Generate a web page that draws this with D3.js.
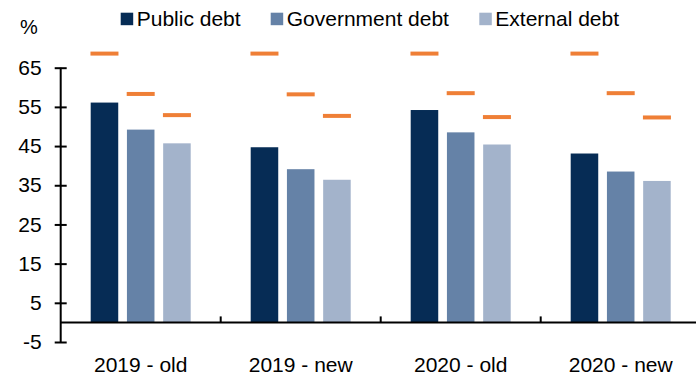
<!DOCTYPE html>
<html>
<head>
<meta charset="utf-8">
<script src="https://cdn.jsdelivr.net/npm/d3@7"></script>
<style>
  body { margin: 0; background: #fff; }
  svg { display: block; font-family: "Liberation Sans", Arial, sans-serif; }
</style>
</head>
<body>
<svg id="chart"></svg>
<script>
// Chart data
const categories = ["2019 - old", "2019 - new", "2020 - old", "2020 - new"];
const seriesNames = ["Public debt", "Government debt", "External debt"];
const publicDebt = [56.1, 44.7, 54.2, 43.1];
const governmentDebt = [49.2, 39.1, 48.5, 38.5];
const externalDebt = [45.7, 36.4, 45.4, 36.1];
// orange markers above each bar
const publicMarker = [68.6, 68.6, 68.6, 68.6];
const governmentMarker = [58.3, 58.2, 58.5, 58.5];
const externalMarker = [52.9, 52.7, 52.4, 52.3];
const yTicks = [-5, 5, 15, 25, 35, 45, 55, 65];

let width = 696;
let height = 377;

let colors = ["#062c55", "#6582a7", "#a3b3cb"];
let markerColor = "#ef7f36";

let barValues = [publicDebt, governmentDebt, externalDebt];
let markerValues = [publicMarker, governmentMarker, externalMarker];

let svg = d3.select('#chart')
    .attr('width', width)
    .attr('height', height);

let y = d3.scaleLinear()
    .domain([-5, 65])
    .range([342, 67.7]);

let x0 = d3.scaleBand()
    .domain(categories)
    .range([60.7, 700.7]);

let x1 = d3.scaleBand()
    .domain(seriesNames)
    .range([30, 130])
    .paddingInner(0.24);

// Bars
let groups = svg.selectAll('g.group')
    .data(categories)
  .enter().append('g')
    .attr('class', 'group')
    .attr('transform', d => `translate(${x0(d)},0)`);

groups.selectAll('rect')
    .data((c, ci) => seriesNames.map((s, si) => ({ s, si, v: barValues[si][ci] })))
  .enter().append('rect')
    .attr('x', d => x1(d.s))
    .attr('width', x1.bandwidth())
    .attr('y', d => y(d.v))
    .attr('height', d => y(0) - y(d.v))
    .style('fill', d => colors[d.si]);

groups.selectAll('line.marker')
    .data((c, ci) => seriesNames.map((s, si) => ({ s, si, v: markerValues[si][ci] })))
  .enter().append('line')
    .attr('class', 'marker')
    .attr('x1', d => x1(d.s) + x1.bandwidth() / 2 - 14)
    .attr('x2', d => x1(d.s) + x1.bandwidth() / 2 + 14)
    .attr('y1', d => y(d.v))
    .attr('y2', d => y(d.v))
    .style('stroke', markerColor)
    .style('stroke-width', '4px');

// Y axis
let yAxis = d3.axisLeft(y)
    .tickValues(yTicks)
    .tickFormat(d => String(d))
    .tickSize(6)
    .tickPadding(12);

let yg = svg.append('g')
    .attr('transform', `translate(${x0.range()[0]},0)`)
    .call(yAxis);

yg.select('.domain').remove();
yg.append('line')
    .attr('y1', y(-5))
    .attr('y2', y(65))
    .style('stroke', '#000')
    .style('stroke-width', '2px');
yg.selectAll('.tick line')
    .attr('x1', -6)
    .attr('x2', 6)
    .style('stroke-width', '2px');
yg.selectAll('.tick text')
    .attr('x', -19)
    .style('font-size', '21px')
    .style('fill', '#000');

// X axis at zero
let xAxis = d3.axisBottom(x0)
    .tickSize(0)
    .tickPadding(0);

let xg = svg.append('g')
    .attr('transform', `translate(0,${y(0)})`)
    .call(xAxis);

xg.select('.domain').remove();
xg.append('line')
    .attr('x1', x0.range()[0])
    .attr('x2', width)
    .style('stroke', '#000')
    .style('stroke-width', '2px');
xg.selectAll('.tick text')
    .attr('y', 50)
    .attr('dy', 0)
    .style('font-size', '21px')
    .style('fill', '#000');

// category separators
xg.selectAll('line.sep')
    .data(categories.slice(1))
  .enter().append('line')
    .attr('class', 'sep')
    .attr('x1', d => x0(d))
    .attr('x2', d => x0(d))
    .attr('y1', 0)
    .attr('y2', -6)
    .style('stroke', '#000')
    .style('stroke-width', '2px');

// unit label
svg.append('text')
    .attr('x', 20)
    .attr('y', 34)
    .style('font-size', '20px')
    .text('%');

// Legend
let legendX = [120.7, 270.7, 479.3];
let legend = svg.selectAll('g.legend')
    .data(seriesNames)
  .enter().append('g')
    .attr('class', 'legend')
    .attr('transform', (d, i) => `translate(${legendX[i]},0)`);

legend.append('rect')
    .attr('y', 12.7)
    .attr('width', 12.5)
    .attr('height', 12.5)
    .style('fill', (d, i) => colors[i]);

legend.append('text')
    .attr('x', 16)
    .attr('y', 26)
    .style('font-size', '21px')
    .text(d => d);
</script>
</body>
</html>
